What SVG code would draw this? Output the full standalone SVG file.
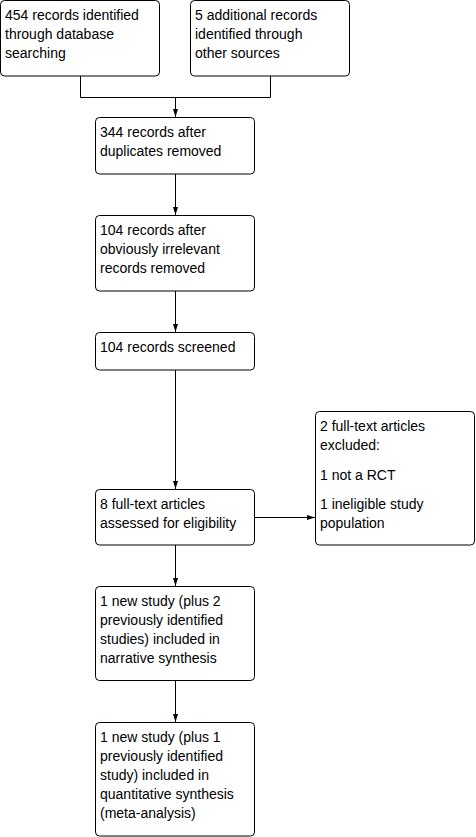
<svg xmlns="http://www.w3.org/2000/svg" width="476" height="837" viewBox="0 0 476 837">
<defs>
<marker id="ah" viewBox="0 0 8 8" refX="8" refY="4" markerWidth="8" markerHeight="8" markerUnits="userSpaceOnUse" orient="auto"><path d="M0,1.5 L8,4 L0,6.5 Z" fill="#000"/></marker>
<style>
.b{fill:#fff;stroke:#000;stroke-width:1}
text{font-family:"Liberation Sans",Arial,sans-serif;font-size:14px;fill:#000}
.c{fill:none;stroke:#000;stroke-width:1}
</style>
</defs>
<rect width="476" height="837" fill="#fff"/>
<g id="connectors">
<path class="c" d="M80.5,76 V97.5 H270.5 V76"/>
<path class="c" d="M175.5,97.5 V117" marker-end="url(#ah)"/>
<path class="c" d="M175.5,174 V215" marker-end="url(#ah)"/>
<path class="c" d="M175.5,291 V332" marker-end="url(#ah)"/>
<path class="c" d="M175.5,370 V489" marker-end="url(#ah)"/>
<path class="c" d="M254,517.5 H315" marker-end="url(#ah)"/>
<path class="c" d="M175.5,545 V586" marker-end="url(#ah)"/>
<path class="c" d="M175.5,680 V722" marker-end="url(#ah)"/>
</g>
<g id="n1"><rect class="b" x="0.5" y="0.5" width="159" height="75.5" rx="4"/><text x="5" y="20">454 records identified</text><text x="5" y="39">through database</text><text x="5" y="58">searching</text></g>
<g id="n2"><rect class="b" x="190.5" y="0.5" width="159" height="75.5" rx="4"/><text x="195" y="20">5 additional records</text><text x="195" y="39">identified through</text><text x="195" y="58">other sources</text></g>
<g id="n3"><rect class="b" x="95.5" y="117.5" width="159" height="56.5" rx="4"/><text x="100" y="137">344 records after</text><text x="100" y="156">duplicates removed</text></g>
<g id="n4"><rect class="b" x="95.5" y="215.5" width="159" height="75.5" rx="4"/><text x="100" y="235">104 records after</text><text x="100" y="254">obviously irrelevant</text><text x="100" y="273">records removed</text></g>
<g id="n5"><rect class="b" x="95.5" y="332.5" width="159" height="37.5" rx="4"/><text x="100" y="352">104 records screened</text></g>
<g id="n6"><rect class="b" x="95.5" y="489.5" width="159" height="55.5" rx="4"/><text x="100" y="509">8 full-text articles</text><text x="100" y="528">assessed for eligibility</text></g>
<g id="n7"><rect class="b" x="315.5" y="411.5" width="159" height="133.5" rx="4"/><text x="320" y="431">2 full-text articles</text><text x="320" y="450">excluded:</text><text x="320" y="480">1 not a RCT</text><text x="320" y="509">1 ineligible study</text><text x="320" y="528">population</text></g>
<g id="n8"><rect class="b" x="95.5" y="586.5" width="159" height="94" rx="4"/><text x="100" y="606">1 new study (plus 2</text><text x="100" y="625">previously identified</text><text x="100" y="644">studies) included in</text><text x="100" y="663">narrative synthesis</text></g>
<g id="n9"><rect class="b" x="95.5" y="722.5" width="159" height="113.5" rx="4"/><text x="100" y="742">1 new study (plus 1</text><text x="100" y="761">previously identified</text><text x="100" y="780">study) included in</text><text x="100" y="799">quantitative synthesis</text><text x="100" y="818">(meta-analysis)</text></g>
</svg>
